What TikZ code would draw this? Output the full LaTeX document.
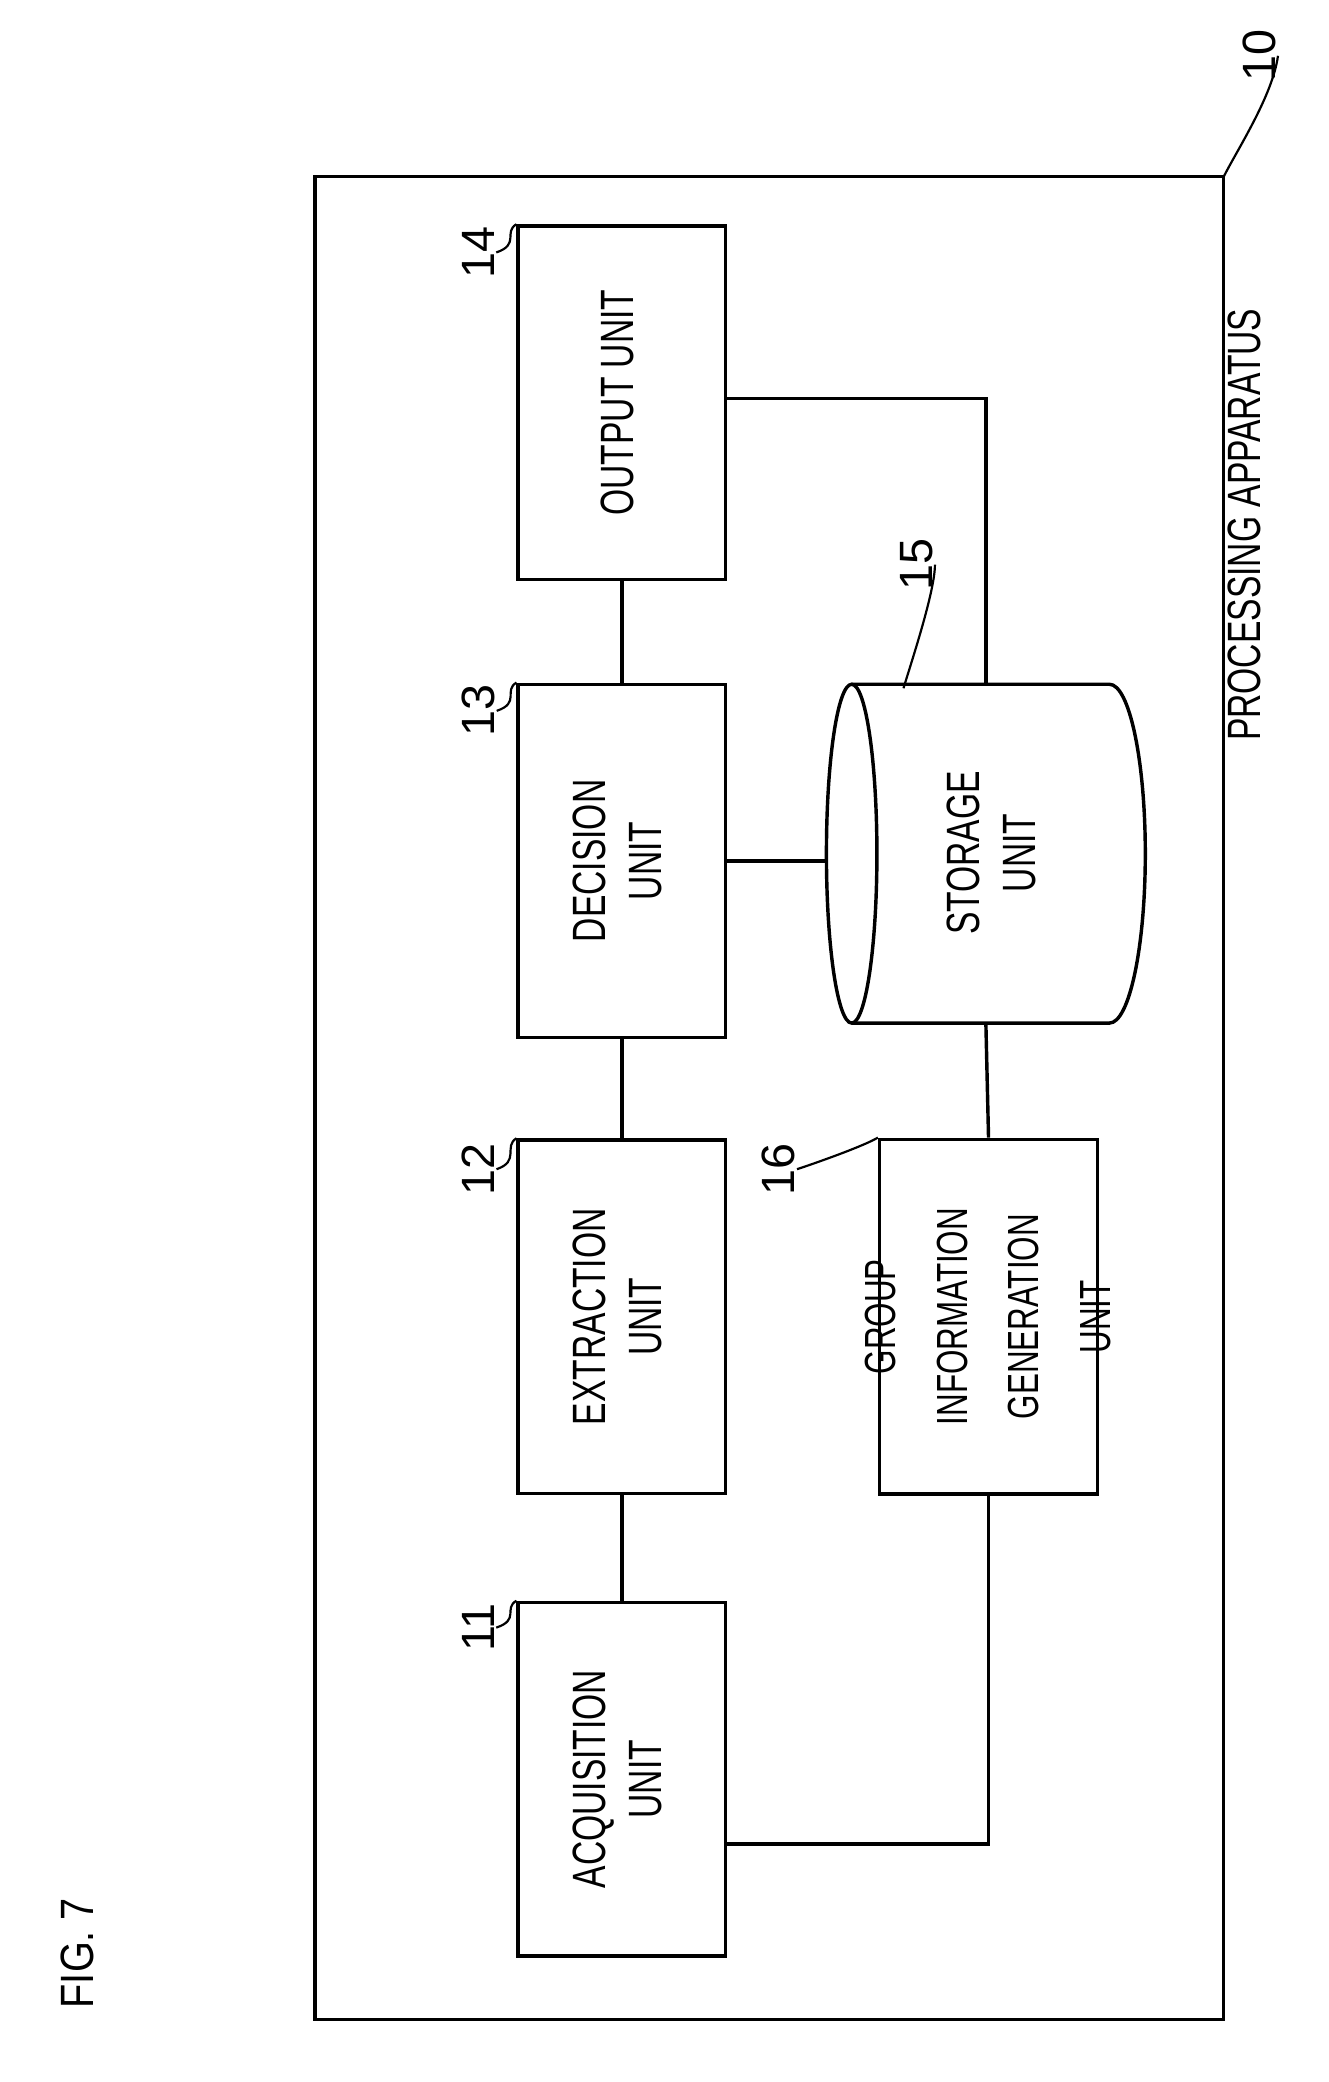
\documentclass[tikz,border=0pt]{standalone}
\usepackage{fontspec}
\setmainfont{Liberation Sans}
\usepackage{graphicx}
\usetikzlibrary{positioning}
\newcommand{\narrowtext}[1]{\scalebox{0.72}[1]{\begin{tabular}{@{}c@{}}#1\end{tabular}}}
\tikzset{
  unit/.style={draw, line width=2.2pt, minimum width=4.68cm, minimum height=7.98cm, inner sep=0pt},
  txt/.style={rotate=90, font=\fontsize{30}{36}\selectfont, inner sep=0pt},
  ref/.style={rotate=90, font=\fontsize{30}{36}\selectfont, inner sep=1pt},
  link/.style={line width=2.2pt},
  lead/.style={line width=1.4pt},
}
\begin{document}
\begin{tikzpicture}[x=0.03cm, y=-0.03cm]
            \useasboundingbox (0,0) rectangle (1000,1567);
            % Outer frame
            \draw[line width=2.2pt] (237,133) rectangle (921,1520);
            \node[ref, anchor=center] (title) at (940,395) {\narrowtext{PROCESSING APPARATUS}};
            \node[ref] (fig) at (58,1470) {\scalebox{0.85}[1]{FIG. 7}};

            % Units
            \node[unit] (out) at (468,303) {};
            \node[unit] (dec) at (468,648) {};
            \node[unit] (ext) at (468,991) {};
            \node[unit] (acq) at (468,1339) {};
            \node[draw, line width=2.2pt, minimum width=4.92cm, minimum height=8.01cm, inner sep=0pt] (grp) at (744,991) {};
            \node[txt] at (out) {\narrowtext{OUTPUT UNIT}};
            \node[txt] at (dec) {\narrowtext{DECISION\\UNIT}};
            \node[txt] at (ext) {\narrowtext{EXTRACTION\\UNIT}};
            \node[txt] at (acq) {\narrowtext{ACQUISITION\\UNIT}};
            \node[txt, font=\fontsize{28}{46}\selectfont] at (grp) {\narrowtext{GROUP\\INFORMATION\\GENERATION\\UNIT}};

            % Storage cylinder
            \draw[line width=2.2pt] (641,515) -- (835,515) arc[start angle=-90, end angle=90, x radius=27, y radius=127.5] -- (641,770);
            \draw[line width=2.2pt] (641,642.5) ellipse[x radius=19, y radius=127.5];
            \coordinate (stL) at (622,648);
            \coordinate (stT) at (742,515);
            \coordinate (stB) at (742,770);
            \node[txt] (sto) at (750,642) {\narrowtext{STORAGE\\UNIT}};

            % Connections
            \draw[link] (out) -- (dec);
            \draw[link] (dec) -- (ext);
            \draw[link] (ext) -- (acq);
            \draw[link] (dec.east) -- (stL);
            \draw[link] (stB) -- (grp.north);
            \draw[link] (out.east |- 0,300) -| (stT);
            \draw[link] (acq.east |- 0,1388) -| (grp.south);

            % Reference numerals
            \node[ref] (n14) at (360,190) {14};
            \node[ref] (n13) at (360,535) {13};
            \node[ref] (n12) at (360,880) {12};
            \node[ref] (n11) at (360,1225) {11};
            \node[ref] (n16) at (586,880) {16};
            \node[ref] (n15) at (690,425) {15};
            \node[ref] (n10) at (948,42) {10};
            \draw[lead] (n14.south) .. controls +(18,-6) and +(-10,6) .. (out.north west);
            \draw[lead] (n13.south) .. controls +(18,-6) and +(-10,6) .. (dec.north west);
            \draw[lead] (n12.south) .. controls +(18,-6) and +(-10,6) .. (ext.north west);
            \draw[lead] (n11.south) .. controls +(18,-6) and +(-10,6) .. (acq.north west);
            \draw[lead] (n16.south) .. controls +(18,-6) and +(-10,6) .. (grp.north west);
            \draw[lead] (n15.south) .. controls +(0,20) and +(6,-20) .. (680,518);
            \draw[lead] (n10.south) .. controls +(-4,30) and +(10,-20) .. (921,133);
\end{tikzpicture}
\end{document}
